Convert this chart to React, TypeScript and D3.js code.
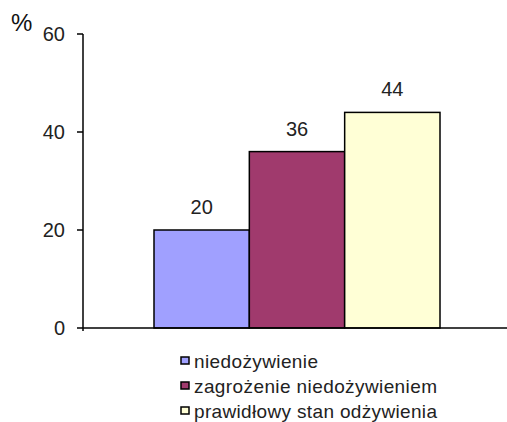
import React from "react";
import * as d3 from "d3";

const categories = ["niedożywienie", "zagrożenie niedożywieniem", "prawidłowy stan odżywienia"];
const values = [20, 36, 44];
const colors = ["#a0a0ff", "#a03a6d", "#ffffd6"];
const yTicks = [0, 20, 40, 60];
const legendWidths = [124, 243, 243];

export default function App() {
  const W = 507, H = 422;
  const y = d3.scaleLinear().domain([0, 60]).range([328, 34]);
  const x = d3.scaleBand<string>().domain(categories).range([154, 440]).padding(0);
  const font = "Liberation Sans, Arial, sans-serif";
  return (
    <svg width={W} height={H} style={{ position: "absolute", left: 0, top: 0, background: "#fff" }}>
      <text x={11} y={31} fontFamily={font} fontSize={24} fill="#111">%</text>
      {/* bars */}
      {categories.map((c, i) => (
        <g key={c}>
          <rect x={x(c)} y={y(values[i])} width={x.bandwidth()} height={y(0) - y(values[i])}
            fill={colors[i]} stroke="#000" strokeWidth={1.5} />
          <text x={x(c)! + x.bandwidth() / 2} y={y(values[i]) - 16} textAnchor="middle"
            fontFamily={font} fontSize={20} fill="#222">{values[i]}</text>
        </g>
      ))}
      {/* axes */}
      <line x1={83} x2={83} y1={y(60)} y2={y(0) + 3} stroke="#000" strokeWidth={1.5} />
      <line x1={83} x2={507} y1={y(0)} y2={y(0)} stroke="#000" strokeWidth={1.5} />
      {yTicks.map(t => (
        <g key={t}>
          <line x1={77} x2={83} y1={y(t)} y2={y(t)} stroke="#000" strokeWidth={1.5} />
          <text x={65} y={y(t) + 7} textAnchor="end" fontFamily={font} fontSize={20} fill="#222">{t}</text>
        </g>
      ))}
      {/* legend */}
      {categories.map((c, i) => {
        const base = 368 + i * 25;
        return (
          <g key={c}>
            <rect x={181} y={base - 11} width={8} height={7} fill={colors[i]} stroke="#000" strokeWidth={1.5} />
            <text x={194} y={base} fontFamily={font} fontSize={19} fill="#222"
              textLength={legendWidths[i]} lengthAdjust="spacing">{c}</text>
          </g>
        );
      })}
    </svg>
  );
}
